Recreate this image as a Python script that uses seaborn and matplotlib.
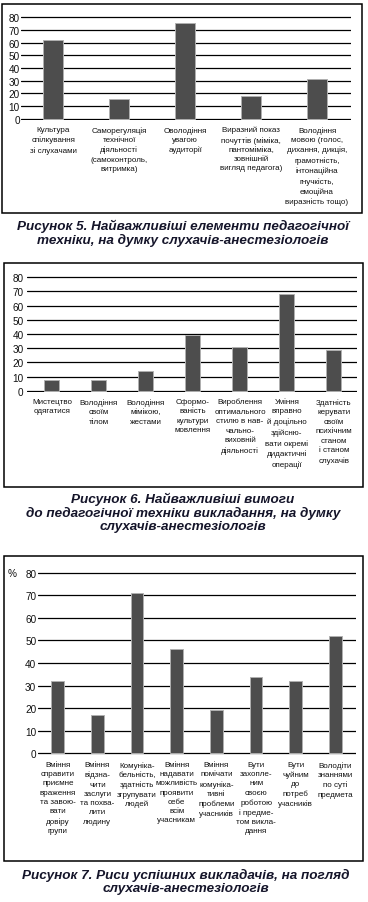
import matplotlib
matplotlib.use("Agg")
import matplotlib.pyplot as plt
import seaborn as sns
import pandas as pd
from matplotlib.patches import Rectangle

# ---------------------------------------------------------------
# Дані
# ---------------------------------------------------------------
labels_5 = [
    "Культура\nспілкування\nзі слухачами",
    "Саморегуляція\nтехнічної\nдіяльності\n(самоконтроль,\nвитримка)",
    "Оволодіння\nувагою\nаудиторії",
    "Виразний показ\nпочуттів (міміка,\nпантоміміка,\nзовнішній\nвигляд педагога)",
    "Володіння\nмовою (голос,\nдихання, дикція,\nграмотність,\nінтонаційна\nгнучкість,\nемоційна\nвиразність тощо)",
]
values_5 = [62, 16, 75, 18, 31]

labels_6 = [
    "Мистецтво\nодягатися",
    "Володіння\nсвоїм\nтілом",
    "Володіння\nмімікою,\nжестами",
    "Сформо-\nваність\nкультури\nмовлення",
    "Вироблення\nоптимального\nстилю в нав-\nчально-\nвиховній\nдіяльності",
    "Уміння\nвправно\nй доцільно\nздійсню-\nвати окремі\nдидактичні\nоперації",
    "Здатність\nкерувати\nсвоїм\nпсихічним\nстаном\nі станом\nслухачів",
]
values_6 = [8, 8, 14, 39, 31, 68, 29]

labels_7 = [
    "Вміння\nсправити\nприємне\nвраження\nта завою-\nвати\nдовіру\nгрупи",
    "Вміння\nвідзна-\nчити\nзаслуги\nта похва-\nлити\nлюдину",
    "Комуніка-\nбельність,\nздатність\nзгрупувати\nлюдей",
    "Вміння\nнадавати\nможливість\nпроявити\nсебе\nвсім\nучасникам",
    "Вміння\nпомічати\nкомуніка-\nтивні\nпроблеми\nучасників",
    "Бути\nзахопле-\nним\nсвоєю\nроботою\nі предме-\nтом викла-\nдання",
    "Бути\nчуйним\nдо\nпотреб\nучасників",
    "Володіти\nзнаннями\nпо суті\nпредмета",
]
values_7 = [32, 17, 71, 46, 19, 34, 32, 52]

captions = [
    "Рисунок 5. Найважливіші елементи педагогічної\nтехніки, на думку слухачів-анестезіологів",
    "Рисунок 6. Найважливіші вимоги\nдо педагогічної техніки викладання, на думку\nслухачів-анестезіологів",
    "Рисунок 7. Риси успішних викладачів, на погляд\nслухачів-анестезіологів",
]
y_ticks = [0, 10, 20, 30, 40, 50, 60, 70, 80]

# ---------------------------------------------------------------
# Оформлення
# ---------------------------------------------------------------
W, H = 368, 903
sns.set_theme(style="white")
plt.rcParams['font.family'] = ['Liberation Sans', 'DejaVu Sans']

BAR_COLOR = "#4d4d4d"
EDGE_COLOR = "#b0b0b0"
CAPTION_COLOR = "#15152a"

fig = plt.figure(figsize=(W / 100, H / 100), dpi=100)


def fig_rect(x0, x1, ytop, ybot):
    return [x0 / W, 1 - ybot / H, (x1 - x0) / W, (ybot - ytop) / H]


def draw_box(x0, x1, ytop, ybot):
    fig.add_artist(Rectangle((x0 / W, 1 - ybot / H), (x1 - x0) / W, (ybot - ytop) / H,
                             transform=fig.transFigure, fill=False,
                             edgecolor="black", linewidth=1.1))


def panel(rect, labels, values, xlim, bar_w, ypad, label_fs=5.8, linesp=1.45):
    ax = fig.add_axes(rect)
    df = pd.DataFrame({'cat': labels, 'val': values})
    sns.barplot(data=df, x='cat', y='val', color=BAR_COLOR, width=bar_w,
                edgecolor=EDGE_COLOR, linewidth=0.7, saturation=1, ax=ax)
    ax.set_ylim(-0.5, 80.5)
    ax.set_xlim(*xlim)
    ax.set_yticks(y_ticks)
    ax.set_axisbelow(True)
    for t in y_ticks:
        ax.axhline(t, color="black", linewidth=0.9, zorder=0)
    for s in ax.spines.values():
        s.set_visible(False)
    ax.set_xlabel("")
    ax.set_ylabel("")
    ax.tick_params(axis='y', length=0, pad=ypad, labelsize=7.2, labelcolor="#111111")
    ax.tick_params(axis='x', length=0, pad=4.5, labelsize=label_fs, labelcolor="#111111")
    for lab in ax.get_xticklabels():
        lab.set_linespacing(linesp)
        lab.set_multialignment('center')
    ax.patch.set_alpha(0)
    return ax


cap_kw = dict(ha='center', va='top', fontsize=9.7, fontweight='bold',
              fontstyle='italic', color=CAPTION_COLOR, linespacing=1.1)

# Рисунок 5
draw_box(2, 362, 5, 214)
panel(fig_rect(21, 351, 17.4, 120.6), labels_5, values_5, (-0.49, 4.515), 0.30, 0.8)
fig.text(183 / W, 1 - 220 / H, captions[0], **cap_kw)

# Рисунок 6
draw_box(4, 363, 264, 488)
panel(fig_rect(27, 357, 277.3, 392.7), labels_6, values_6, (-0.53, 6.49), 0.32, 2.5,
      linesp=1.5)
fig.text(183 / W, 1 - 493 / H, captions[1], **cap_kw)

# Рисунок 7
draw_box(4, 363, 557, 862)
panel(fig_rect(38, 356, 572.4, 755.6), labels_7, values_7, (-0.5, 7.52), 0.32, 1.2)
fig.text(8 / W, 1 - 574 / H, "%", ha='left', va='center', fontsize=7.2, color="#111111")
fig.text(186 / W, 1 - 869 / H, captions[2], **cap_kw)

fig.savefig("out.png", dpi=100, facecolor="white")
